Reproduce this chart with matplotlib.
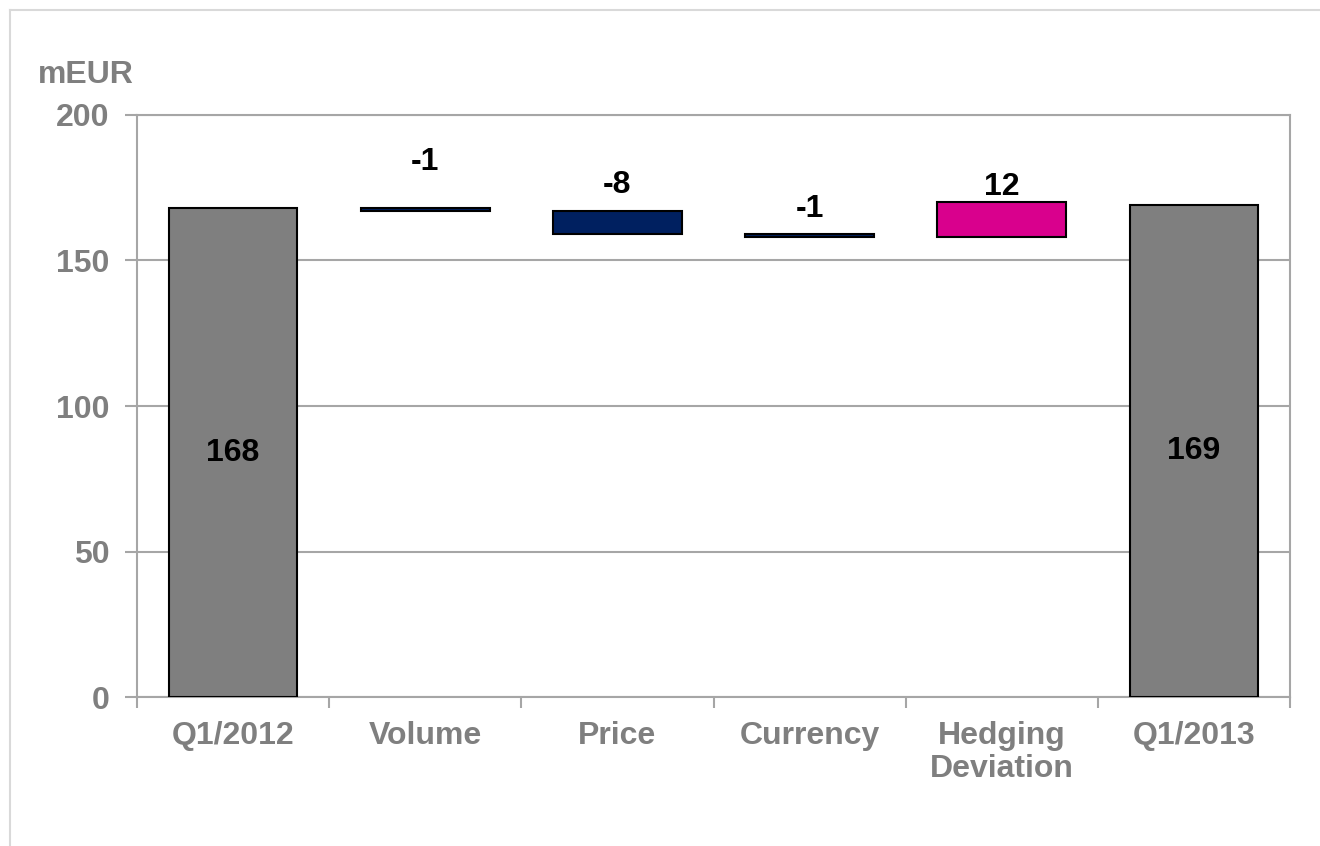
import matplotlib.pyplot as plt
from matplotlib.lines import Line2D

plt.rcParams['font.family'] = ['Liberation Sans', 'DejaVu Sans']
plt.rcParams['font.weight'] = 'bold'

# Operating result bridge, mEUR
categories = ["Q1/2012", "Volume", "Price", "Currency", "Hedging\nDeviation", "Q1/2013"]
start_value = 168
deltas = [-1, -8, -1, 12]
end_value = 169

GREY = "#7f7f7f"
NAVY = "#002060"
MAGENTA = "#d9008d"
AXIS_GREY = "#a6a6a6"
TEXT_GREY = "#7f7f7f"
FS = 23

# vertical offsets (points) of the delta labels above each floating bar
label_offsets = [33, 19, 18, 11]

fig = plt.figure(figsize=(13.2, 8.46), dpi=100)
ax = fig.add_axes([137 / 1320, 149 / 846, 1153 / 1320, 582 / 846])

bar_w = 0.67
x = list(range(len(categories)))

# totals
ax.bar(x[0], start_value, width=bar_w, color=GREY, edgecolor="black", linewidth=1.5, zorder=3)
ax.bar(x[-1], end_value, width=bar_w, color=GREY, edgecolor="black", linewidth=1.5, zorder=3)
ax.text(x[0], start_value / 2, str(start_value), ha="center", va="center", fontsize=FS, color="black")
ax.text(x[-1], end_value / 2, str(end_value), ha="center", va="center", fontsize=FS, color="black")

# floating deltas
level = start_value
delta_colors = [NAVY, NAVY, NAVY, MAGENTA]
for i, d in enumerate(deltas):
    new_level = level + d
    lo, hi = min(level, new_level), max(level, new_level)
    ax.bar(x[i + 1], hi - lo, bottom=lo, width=bar_w, color=delta_colors[i],
           edgecolor="black", linewidth=1.5, zorder=3)
    ax.annotate(f"{d}", (x[i + 1], hi), xytext=(0, label_offsets[i]),
                textcoords="offset points", ha="center", va="center",
                fontsize=FS, color="black")
    level = new_level

ax.set_xlim(-0.5, len(categories) - 0.5)
ax.set_ylim(0, 200)
ax.set_yticks([0, 50, 100, 150, 200])
ax.yaxis.grid(True, color=AXIS_GREY, linewidth=1.5, zorder=0)
ax.set_axisbelow(True)

# category labels centred, tick marks on the boundaries
ax.set_xticks(x)
ax.set_xticklabels(categories, linespacing=1.15)
ax.set_xticks([i - 0.5 for i in range(len(categories) + 1)], minor=True)
ax.tick_params(axis="x", which="major", length=0, pad=17, labelsize=FS, labelcolor=TEXT_GREY)
ax.tick_params(axis="x", which="minor", length=8, width=1.5, color=AXIS_GREY, direction="out")
ax.tick_params(axis="y", length=9, width=1.5, color=AXIS_GREY, pad=11,
               labelsize=FS, labelcolor=TEXT_GREY)

for side in ["left", "bottom", "right", "top"]:
    ax.spines[side].set_color(AXIS_GREY)
    ax.spines[side].set_linewidth(1.5)

fig.text(38 / 1320, 1 - 75 / 846, "mEUR", ha="left", va="center", fontsize=FS, color=TEXT_GREY)

# thin frame along the top and left edges
fig.add_artist(Line2D([10 / 1320, 1], [1 - 10 / 846] * 2, transform=fig.transFigure,
                      color="#d9d9d9", linewidth=1.5))
fig.add_artist(Line2D([10 / 1320] * 2, [0, 1 - 10 / 846], transform=fig.transFigure,
                      color="#d9d9d9", linewidth=1.5))

fig.savefig("out.png", dpi=100, facecolor="white")
